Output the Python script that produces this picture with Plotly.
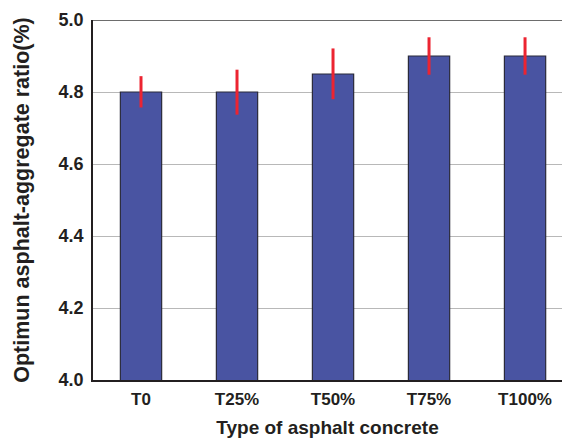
import plotly.graph_objects as go

categories = ["T0", "T25%", "T50%", "T75%", "T100%"]
values = [4.80, 4.80, 4.85, 4.90, 4.90]
err_plus = [0.044, 0.062, 0.071, 0.052, 0.052]
err_minus = [0.043, 0.063, 0.070, 0.052, 0.052]
y_ticks = [4.0, 4.2, 4.4, 4.6, 4.8, 5.0]

FONT = "Liberation Sans, Arial, sans-serif"

fig = go.Figure()
fig.add_trace(go.Bar(
    x=list(range(len(categories))),
    y=values,
    base=0,
    width=0.43,
    marker=dict(color="#4954a2", line=dict(color="#2a2a3a", width=1.2)),
    error_y=dict(type="data", symmetric=False, array=err_plus, arrayminus=err_minus,
                 color="#ec2431", thickness=3, width=0),
))

fig.update_layout(
    width=562, height=438,
    margin=dict(l=93, r=0, t=20, b=58),
    plot_bgcolor="white", paper_bgcolor="white",
    showlegend=False,
    font=dict(family=FONT, size=18, color="#231f20"),
    xaxis=dict(
        tickmode="array", tickvals=list(range(len(categories))), ticktext=[f"<b>{c}</b>" for c in categories],
        range=[-0.5, 4.385], showgrid=False, showline=True, linecolor="#231f20", linewidth=1.5,
        ticks="", tickfont=dict(size=17, family=FONT), ticklabelstandoff=3,
        title=dict(text="<b>Type of asphalt concrete</b>", font=dict(size=19, family=FONT), standoff=14),
        zeroline=False,
    ),
    yaxis=dict(
        range=[4.0, 5.0], tickvals=y_ticks, ticktext=[f"<b>{t:.1f}</b>" for t in y_ticks],
        showgrid=True, gridcolor="#b8b8b8", gridwidth=1,
        showline=True, linecolor="#231f20", linewidth=1.5,
        ticks="", ticklen=0, tickfont=dict(size=18, family=FONT), ticklabelstandoff=4,
        title=dict(text="<b>Optimun asphalt-aggregate ratio(%)</b>", font=dict(size=21.5, family=FONT), standoff=23),
        zeroline=False,
    ),
)

fig.add_shape(type="line", xref="paper", yref="y", x0=0, x1=1, y0=5.0, y1=5.0,
              line=dict(color="#6d6d6d", width=2))

fig.write_html("out.html")
